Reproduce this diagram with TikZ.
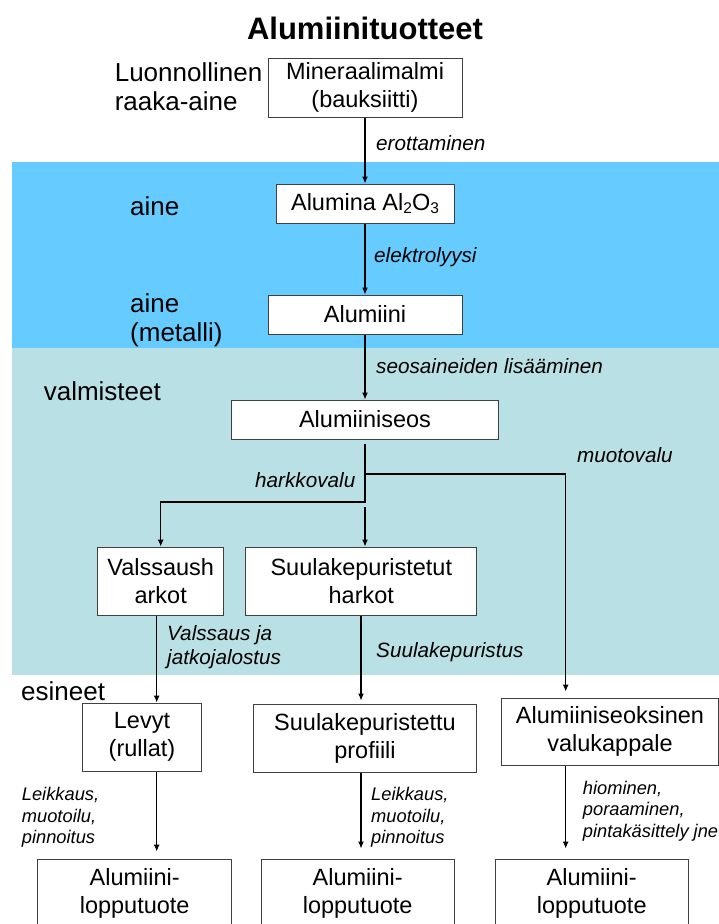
\documentclass[tikz,border=0pt]{standalone}
\usepackage{fontspec}
\setmainfont{Liberation Sans}
\usepackage{tikz}
\usetikzlibrary{arrows.meta}
\usepackage{xcolor}
\definecolor{SkyBlue}{RGB}{102, 204, 255}
\definecolor{PaleTeal}{RGB}{185, 224, 228}
\newcommand{\alsub}[1]{\raisebox{-3.5pt}{\fontsize{15.5}{16}\selectfont #1}}

\begin{document}
\begin{tikzpicture}[x = 1pt, y = -1pt,
        box/.style = {draw = black!75, fill = white, line width = 1pt, inner sep = 0pt, align = center, font = \fontsize{23.5}{28}\selectfont},
        side/.style = {anchor = west, inner sep = 0pt, align = left, font = \fontsize{26}{29}\selectfont},
        lbl/.style = {anchor = west, inner sep = 0pt, align = left, font = \itshape\fontsize{20.7}{24}\selectfont},
        note/.style = {anchor = west, inner sep = 0pt, align = left, font = \itshape\fontsize{18.3}{21.5}\selectfont},
        arr/.style = {-{Latex[length = 7pt, width = 6pt]}, line width = 1.1pt}]
            \useasboundingbox (0, 0) rectangle (719, 924);
            \clip (0, 0) rectangle (719, 924);
            %背景色带
            \fill[SkyBlue] (11.5, 162) rectangle (719, 347.5);
            \fill[PaleTeal] (11.5, 347.5) rectangle (719, 675);
            %标题
            \node[font = \bfseries\fontsize{31}{36}\selectfont] (otsikko) at (365, 28.4) {Alumiinituotteet};
            %左侧分类
            \node[side] (raaka) at (114.6, 86.5) {Luonnollinen\\raaka-aine};
            \node[side] (aine) at (130, 206) {aine};
            \node[side] (metalli) at (130, 320) {aine\\(metalli)};
            \node[side] (valmisteet) at (43.6, 391) {valmisteet};
            \node[side] (esineet) at (21, 691) {esineet};
            %方框
            \node[box, minimum width = 194pt, minimum height = 59pt] (malmi) at (365, 87.5) {Mineraalimalmi\\(bauksiitti)};
            \node[box, minimum width = 178pt, minimum height = 39pt] (alumina) at (365, 203.5) {Alumina Al\alsub{2}O\alsub{3}};
            \node[box, minimum width = 194pt, minimum height = 39pt] (alumiini) at (365, 314.5) {Alumiini};
            \node[box, minimum width = 267pt, minimum height = 39pt] (seos) at (365, 419.5) {Alumiiniseos};
            \node[box, minimum width = 126.5pt, minimum height = 68pt] (valssaus) at (160.7, 581) {Valssaush\\arkot};
            \node[box, minimum width = 230.7pt, minimum height = 68pt] (harkot) at (361.3, 581) {Suulakepuristetut\\harkot};
            \node[box, minimum width = 119.4pt, minimum height = 68pt] (levyt) at (142, 737) {Levyt\\(rullat)};
            \node[box, minimum width = 223.4pt, minimum height = 68pt] (profiili) at (365, 738) {Suulakepuristettu\\profiili};
            \node[box, minimum width = 216.6pt, minimum height = 67pt] (valu) at (610, 731.5) {Alumiiniseoksinen\\valukappale};
            \node[box, minimum width = 194pt, minimum height = 68pt] (loppuA) at (134.7, 893) {Alumiini-\\lopputuote};
            \node[box, minimum width = 193.3pt, minimum height = 68pt] (loppuB) at (357.7, 893) {Alumiini-\\lopputuote};
            \node[box, minimum width = 193.3pt, minimum height = 68pt] (loppuC) at (591.7, 893) {Alumiini-\\lopputuote};
            %辅助坐标
            \coordinate (colA) at (156.7, 0);
            \coordinate (colB) at (361, 0);
            \coordinate (colC) at (565.7, 0);
            \coordinate (haara) at (365, 474);
            \coordinate (jako) at (365, 502);
            %箭头
            \draw[arr] (malmi.south) -- (alumina.north);
            \draw[arr] (alumina.south) -- (alumiini.north);
            \draw[arr] (alumiini.south) -- (seos.north);
            \draw[arr] ([yshift = -4pt]seos.south) -- (jako) -| (valssaus.north);
            \draw[arr, shorten > = 6pt] (haara) -- (haara -| colC) -- (valu.north -| colC);
            \draw[arr] ([yshift = -5pt]jako) -- (harkot.north -| jako);
            \draw[arr] (valssaus.south -| colA) -- (levyt.north -| colA);
            \draw[arr, shorten > = 3pt] (harkot.south -| colB) -- (profiili.north -| colB);
            \draw[arr, shorten > = 7pt] (levyt.south -| colA) -- (loppuA.north -| colA);
            \draw[arr, shorten > = 10pt] (profiili.south -| colB) -- (loppuB.north -| colB);
            \draw[arr, shorten > = 10pt] (valu.south -| colC) -- (loppuC.north -| colC);
            %过程标注
            \node[lbl] (erotus) at (376, 143.5) {erottaminen};
            \node[lbl] (elektro) at (374, 257.5) {elektrolyysi};
            \node[lbl] (seostus) at (376, 366.5) {seosaineiden lisääminen};
            \node[lbl] (muotovalu) at (577, 455) {muotovalu};
            \node[lbl, anchor = east] (harkkovalu) at (355.5, 480) {harkkovalu};
            \node[lbl] (valssays) at (167, 647.6) {Valssaus ja\\jatkojalostus};
            \node[lbl] (puristus) at (376, 652.5) {Suulakepuristus};
            \node[note] (leikkausA) at (21.7, 817.5) {Leikkaus,\\muotoilu,\\pinnoitus};
            \node[note] (leikkausB) at (371, 817.5) {Leikkaus,\\muotoilu,\\pinnoitus};
            \node[note] (hionta) at (582.7, 811) {hiominen,\\poraaminen,\\pintakäsittely jne};
        \end{tikzpicture}
\end{document}
